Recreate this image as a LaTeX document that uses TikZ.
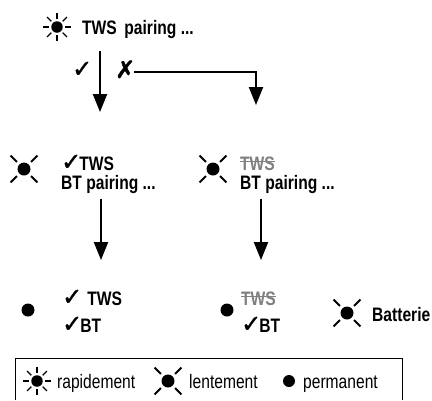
\documentclass[tikz,border=0pt]{standalone}
\usepackage{fontspec}
\setmainfont[FakeStretch=0.8]{Liberation Sans}
\newfontfamily\symfont[FakeBold=1.5]{DejaVu Sans}
\usetikzlibrary{arrows.meta}

\newcommand{\chk}{{\fontsize{24}{24}\symfont\char"2713}}
\newcommand{\crs}{{\fontsize{24}{24}\symfont\char"2717}}

\begin{document}
\begin{tikzpicture}[x=1pt, y=-1pt, inner sep=0pt, font=\fontsize{19.5}{22}\selectfont\bfseries]
	\tikzset{
		label/.style={anchor=base west},
		gone/.style={anchor=base west, text=gray},
		strike/.style={draw=gray, line width=1pt},
		legend/.style={anchor=base west, font=\fontsize{19.5}{22}\selectfont},
		flow/.style={line width=2.2pt, -{Triangle[length=18pt, width=14pt]}},
		dot/.style={circle, fill=black, minimum size=#1},
		ray/.style={line width=1.4pt},
		slowray/.style={line width=1.8pt}
	}
	\newcommand{\fastled}[2]{
		\node[dot=11.5pt] (#1) at (#2) {};
		\foreach \a in {0,45,...,315}
			\draw[ray] (#1) ++(\a:8pt) -- ++(\a:6pt);
	}
	\newcommand{\slowled}[2]{
		\node[dot=13pt] (#1) at (#2) {};
		\foreach \a in {45,135,225,315}
			\draw[slowray] (#1) ++(\a:10pt) -- ++(\a:9pt);
	}
	\useasboundingbox (0,0) rectangle (432,400);

	% first step
	\fastled{ledStart}{57,27}
	\node[label] (pairing) at (82,34) {TWS\, pairing ...};
	\node[label] (yes) at (72,77) {\chk};
	\node[label] (no) at (115,78) {\crs};
	\coordinate (startTop) at (100,51);
	\coordinate (startEnd) at (100,112);
	\coordinate (noStart) at (134,72);
	\coordinate (noEnd) at (256,105);
	\draw[flow] (startTop) -- (startEnd);
	\draw[flow] (noStart) -- (noEnd |- noStart) -- (noEnd);

	% second row
	\slowled{ledA}{24,169}
	\node[label] (twsA) at (61,170) {\chk\kern-2pt TWS};
	\node[label] (btA) at (61,189) {BT pairing ...};
	\slowled{ledB}{213,169}
	\node[gone] (twsB) at (240,170) {TWS};
	\draw[strike] ([yshift=2pt]twsB.west) -- ([yshift=2pt]twsB.east);
	\node[label] (btB) at (240,189) {BT pairing ...};
	\coordinate (downA) at (101,199);
	\coordinate (endA) at (101,260);
	\coordinate (downB) at (261,199);
	\coordinate (endB) at (261,260);
	\draw[flow] (downA) -- (endA);
	\draw[flow] (downB) -- (endB);

	% third row
	\node[dot=13pt] (ledC) at (28,310) {};
	\node[label] (twsC) at (62,305) {\chk\kern5pt TWS};
	\node[label] (btC) at (62,332) {\chk\kern-2pt BT};
	\node[dot=13pt] (ledD) at (227,310) {};
	\node[gone] (twsD) at (241,305) {TWS};
	\draw[strike] ([yshift=2pt]twsD.west) -- ([yshift=2pt]twsD.east);
	\node[label] (btD) at (241,332) {\chk\kern-2pt BT};
	\slowled{ledE}{347,313}
	\node[label] (batt) at (372,321) {Batterie};

	% legend
	\draw[line width=1pt] (15,400) -- (15,358) -- (402,358) -- (402,400);
	\fastled{ledF}{37,381}
	\node[legend] (fast) at (57,388) {rapidement};
	\slowled{ledG}{168,381}
	\node[legend] (slow) at (189,388) {lentement};
	\node[dot=12pt] (ledH) at (289,381) {};
	\node[legend] (perm) at (303,388) {permanent};
\end{tikzpicture}
\end{document}
